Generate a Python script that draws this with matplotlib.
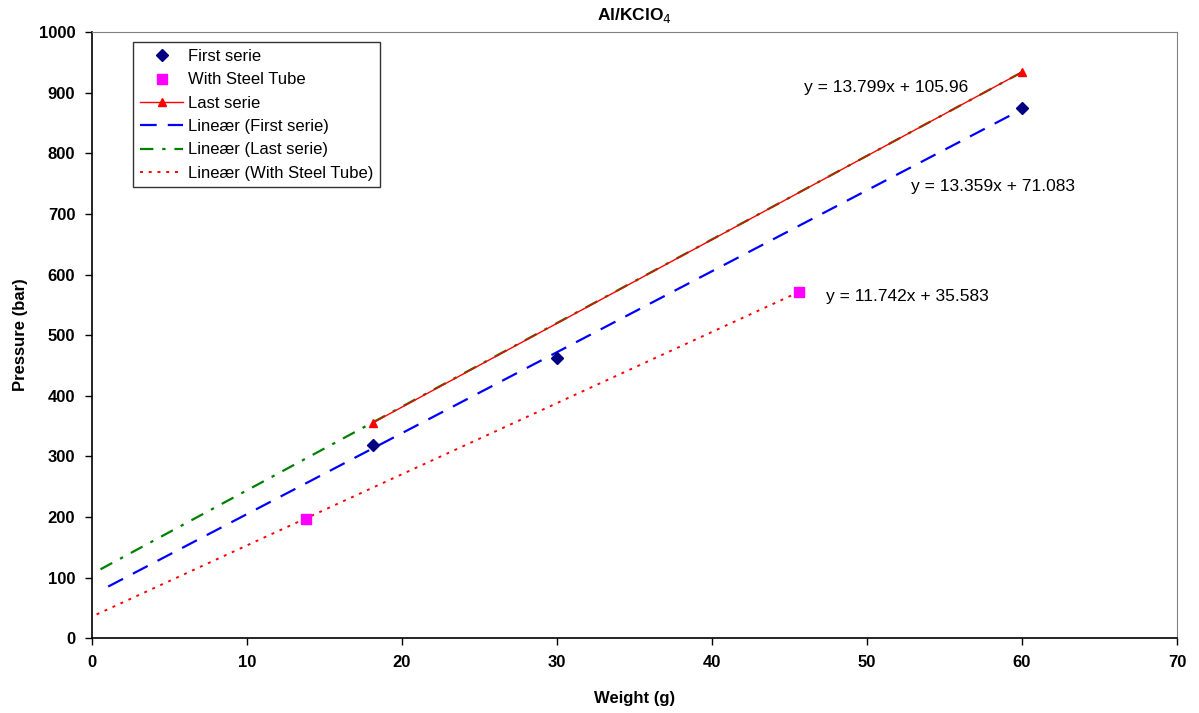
import matplotlib
matplotlib.use("Agg")
import matplotlib.pyplot as plt
import numpy as np

plt.rcParams['font.family'] = ['Liberation Sans', 'DejaVu Sans']

# Data
first_x = [18.1, 30.0, 60.0]
first_y = [318, 463, 875]
steel_x = [13.8, 45.6]
steel_y = [197, 571]
last_x = [18.1, 60.0]
last_y = [355, 934]

# Trendline coefficients (slope, intercept) and drawn x-ranges
first_fit = (13.359, 71.083)
last_fit = (13.799, 105.96)
steel_fit = (11.742, 35.583)
first_range = (1.05, 60.0)
last_range = (0.55, 60.0)
steel_range = (0.3, 45.6)

eq_labels = ["y = 13.799x + 105.96", "y = 13.359x + 71.083", "y = 11.742x + 35.583"]
eq_pos = [(51.2, 909), (58.1, 745), (52.6, 563)]

xticks = list(range(0, 71, 10))
yticks = list(range(0, 1001, 100))

fig = plt.figure(figsize=(11.99, 7.13), dpi=100)
ax = fig.add_axes([0.0767, 0.105, 0.905, 0.85])

def trend(fit, rng):
    xs = np.array(rng)
    return xs, fit[0] * xs + fit[1]

lx, ly = trend(first_fit, first_range)
h_lf, = ax.plot(lx, ly, color='#0000FF', lw=1.6, linestyle=(0, (7.5, 5)), label='Lineær (First serie)')
lx, ly = trend(last_fit, last_range)
h_ll, = ax.plot(lx, ly, color='#008000', lw=1.6, linestyle=(0, (6, 4, 1.5, 4)), label='Lineær (Last serie)')
lx, ly = trend(steel_fit, steel_range)
h_ls, = ax.plot(lx, ly, color='#FF0000', lw=1.4, linestyle=(0, (1.5, 3)), label='Lineær (With Steel Tube)')

h_last, = ax.plot(last_x, last_y, color='#FF0000', lw=1.0, marker='^', markersize=5.5,
                  markerfacecolor='#FF0000', markeredgecolor='#FF0000', label='Last serie')
h_first, = ax.plot(first_x, first_y, linestyle='none', marker='D', markersize=6,
                   color='#000080', label='First serie')
h_steel, = ax.plot(steel_x, steel_y, linestyle='none', marker='s', markersize=7,
                   color='#FF00FF', label='With Steel Tube')

for txt, (px, py) in zip(eq_labels, eq_pos):
    ax.text(px, py, txt, ha='center', va='center', fontsize=12.5, color='black')

ax.set_xlim(0, 70)
ax.set_ylim(0, 1000)
ax.set_xticks(xticks)
ax.set_yticks(yticks)
ax.tick_params(direction='out', length=5, width=1, labelsize=12, pad=7)
for lab in ax.get_xticklabels() + ax.get_yticklabels():
    lab.set_fontweight('bold')

ax.set_xlabel('Weight (g)', fontsize=12, fontweight='bold', labelpad=15)
ax.set_ylabel('Pressure (bar)', fontsize=12, fontweight='bold', labelpad=8)
ax.set_title('Al/KClO$_4$', fontsize=12.5, fontweight='bold', pad=9)

for s in ['top', 'right']:
    ax.spines[s].set_color('#808080')
for s in ['left', 'bottom']:
    ax.spines[s].set_color('black')
    ax.spines[s].set_linewidth(1.2)

leg = ax.legend(handles=[h_first, h_steel, h_last, h_lf, h_ll, h_ls],
                loc='upper left', bbox_to_anchor=(0.038, 0.983), borderaxespad=0,
                fontsize=12, frameon=True, fancybox=False, edgecolor='black',
                handlelength=2.6, handletextpad=0.3, labelspacing=0.5, borderpad=0.4)
leg.get_frame().set_linewidth(1.0)

fig.savefig('out.png', dpi=100)
